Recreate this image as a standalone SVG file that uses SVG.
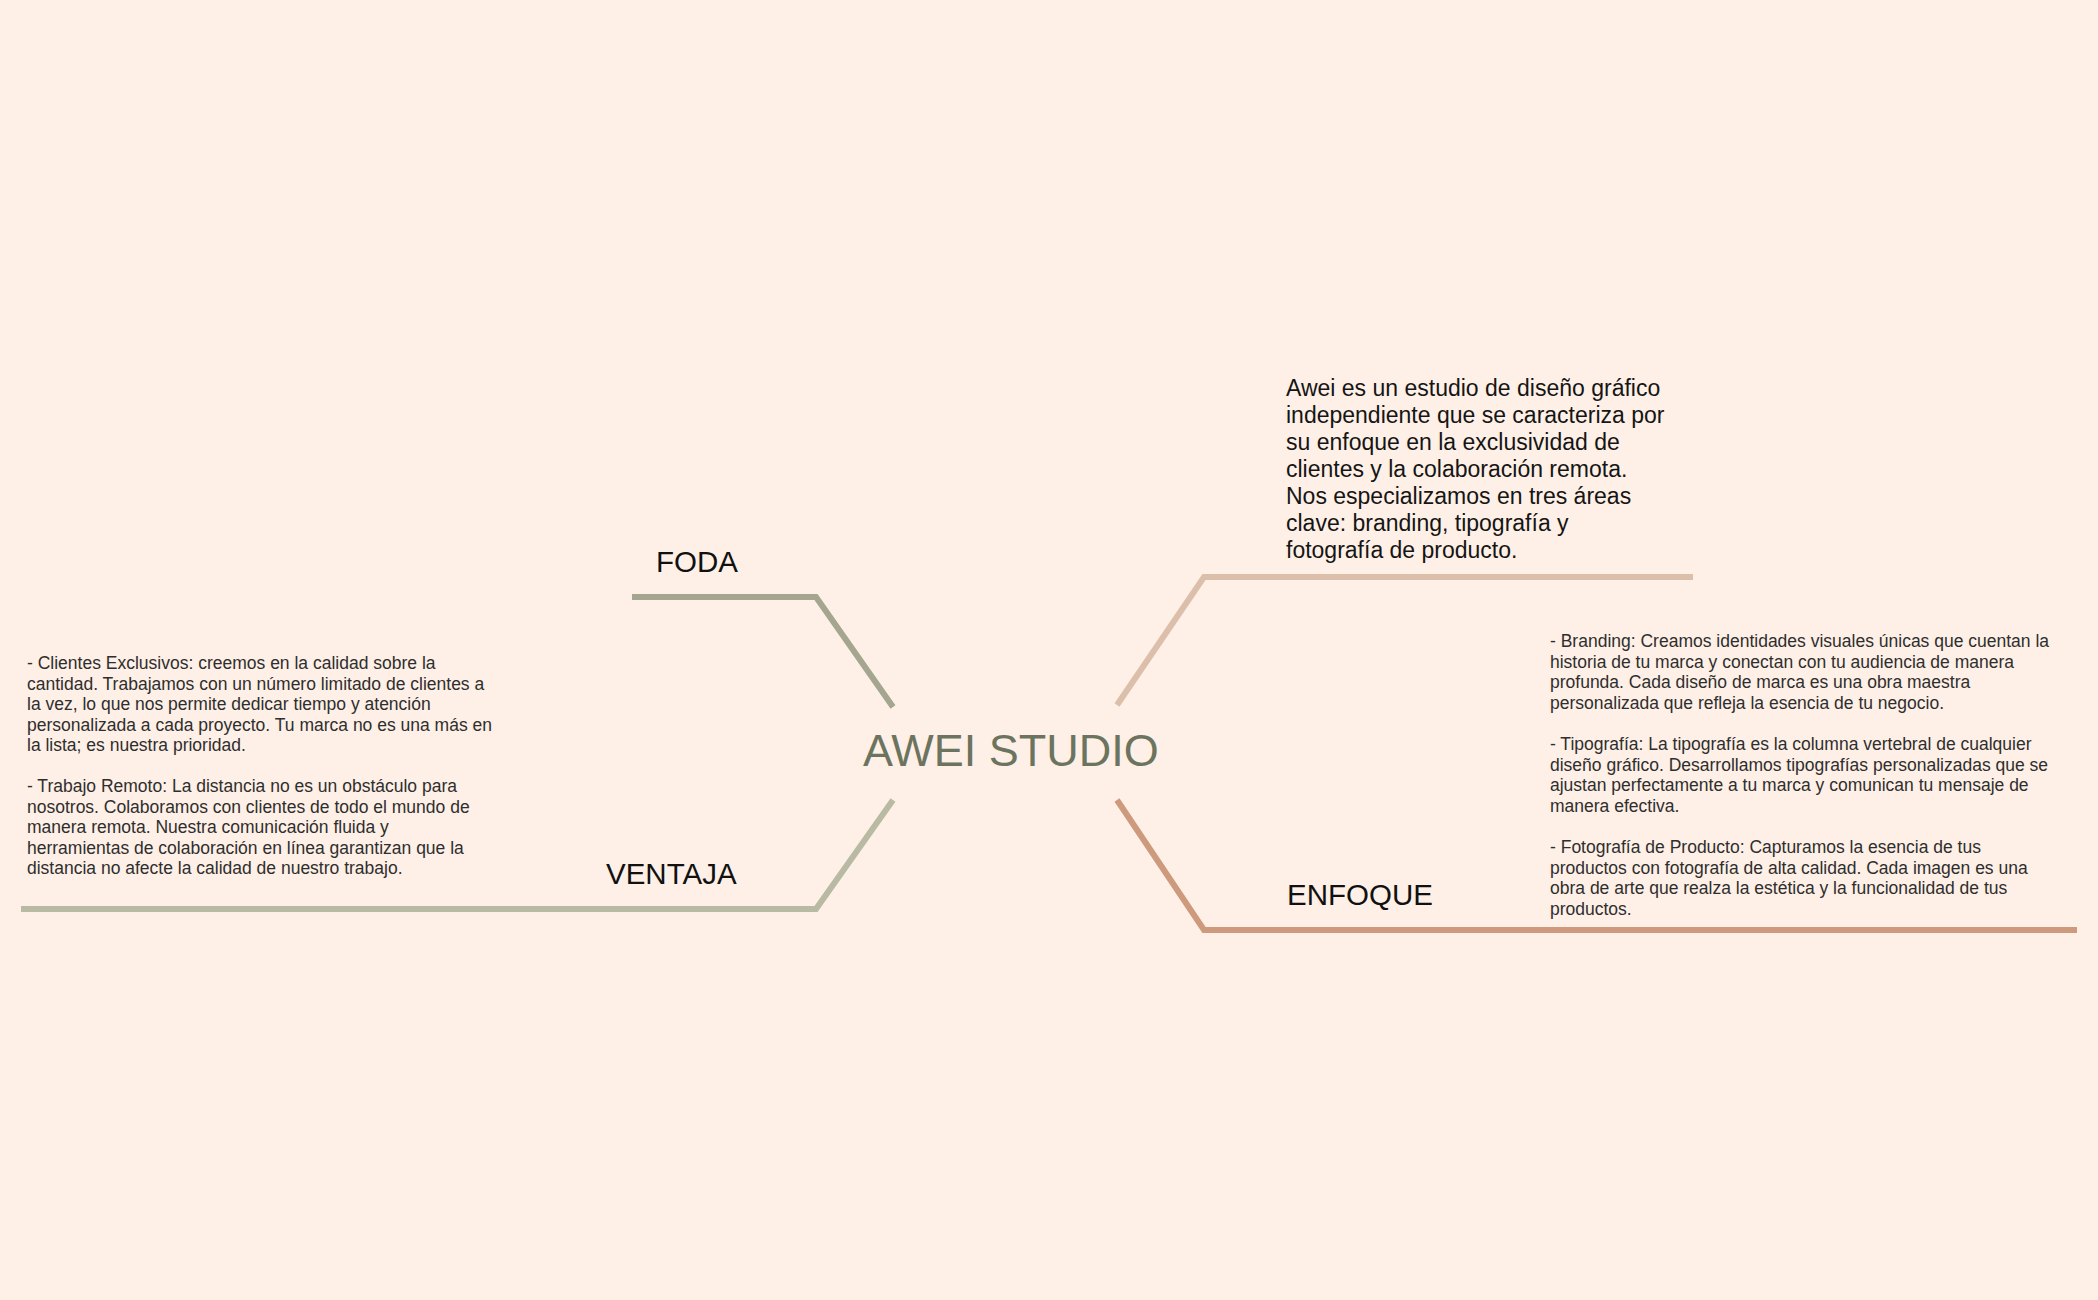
<svg xmlns="http://www.w3.org/2000/svg" width="2098" height="1300" viewBox="0 0 2098 1300">
  <style>
    text { font-family: "Liberation Sans", Arial, sans-serif; }
    .title { font-size: 29.5px; fill: #111111; }
    .center { font-size: 45px; fill: #6c745f; }
    .intro { font-size: 23px; fill: #151515; }
    .body { font-size: 17.5px; fill: #2e2e2e; }
    .conn { fill: none; stroke-width: 6; stroke-linejoin: miter; stroke-linecap: butt; }
  </style>
  <rect x="0" y="0" width="2098" height="1300" fill="#fef0e6"/>

  <g id="connectors">
    <polyline class="conn" stroke="#a5a690" points="632,597 816,597 893,707"/>
    <polyline class="conn" stroke="#b9baa4" points="21,909 816,909 893,800"/>
    <polyline class="conn" stroke="#dcbfab" points="1117,705 1204,577 1693,577"/>
    <polyline class="conn" stroke="#cd9a7e" points="1117,800 1204,930 2077,930"/>
  </g>

  <g id="center">
    <text class="center" x="863" y="766">AWEI STUDIO</text>
  </g>

  <g id="foda">
    <text class="title" x="656" y="572">FODA</text>
  </g>

  <g id="ventaja">
    <text class="title" x="606" y="884">VENTAJA</text>
    <text class="body" x="27">
      <tspan x="27" y="669">- Clientes Exclusivos: creemos en la calidad sobre la</tspan>
      <tspan x="27" y="689.5">cantidad. Trabajamos con un número limitado de clientes a</tspan>
      <tspan x="27" y="710">la vez, lo que nos permite dedicar tiempo y atención</tspan>
      <tspan x="27" y="730.5">personalizada a cada proyecto. Tu marca no es una más en</tspan>
      <tspan x="27" y="751">la lista; es nuestra prioridad.</tspan>
      <tspan x="27" y="792">- Trabajo Remoto: La distancia no es un obstáculo para</tspan>
      <tspan x="27" y="812.5">nosotros. Colaboramos con clientes de todo el mundo de</tspan>
      <tspan x="27" y="833">manera remota. Nuestra comunicación fluida y</tspan>
      <tspan x="27" y="853.5">herramientas de colaboración en línea garantizan que la</tspan>
      <tspan x="27" y="874">distancia no afecte la calidad de nuestro trabajo.</tspan>
    </text>
  </g>

  <g id="intro">
    <text class="intro" x="1286">
      <tspan x="1286" y="396">Awei es un estudio de diseño gráfico</tspan>
      <tspan x="1286" y="423">independiente que se caracteriza por</tspan>
      <tspan x="1286" y="450">su enfoque en la exclusividad de</tspan>
      <tspan x="1286" y="477">clientes y la colaboración remota.</tspan>
      <tspan x="1286" y="504">Nos especializamos en tres áreas</tspan>
      <tspan x="1286" y="531">clave: branding, tipografía y</tspan>
      <tspan x="1286" y="558">fotografía de producto.</tspan>
    </text>
  </g>

  <g id="enfoque">
    <text class="title" x="1287" y="905">ENFOQUE</text>
    <text class="body" x="1550">
      <tspan x="1550" y="647">- Branding: Creamos identidades visuales únicas que cuentan la</tspan>
      <tspan x="1550" y="667.5">historia de tu marca y conectan con tu audiencia de manera</tspan>
      <tspan x="1550" y="688">profunda. Cada diseño de marca es una obra maestra</tspan>
      <tspan x="1550" y="708.5">personalizada que refleja la esencia de tu negocio.</tspan>
      <tspan x="1550" y="750">- Tipografía: La tipografía es la columna vertebral de cualquier</tspan>
      <tspan x="1550" y="770.5">diseño gráfico. Desarrollamos tipografías personalizadas que se</tspan>
      <tspan x="1550" y="791">ajustan perfectamente a tu marca y comunican tu mensaje de</tspan>
      <tspan x="1550" y="811.5">manera efectiva.</tspan>
      <tspan x="1550" y="853">- Fotografía de Producto: Capturamos la esencia de tus</tspan>
      <tspan x="1550" y="873.5">productos con fotografía de alta calidad. Cada imagen es una</tspan>
      <tspan x="1550" y="894">obra de arte que realza la estética y la funcionalidad de tus</tspan>
      <tspan x="1550" y="914.5">productos.</tspan>
    </text>
  </g>
</svg>
